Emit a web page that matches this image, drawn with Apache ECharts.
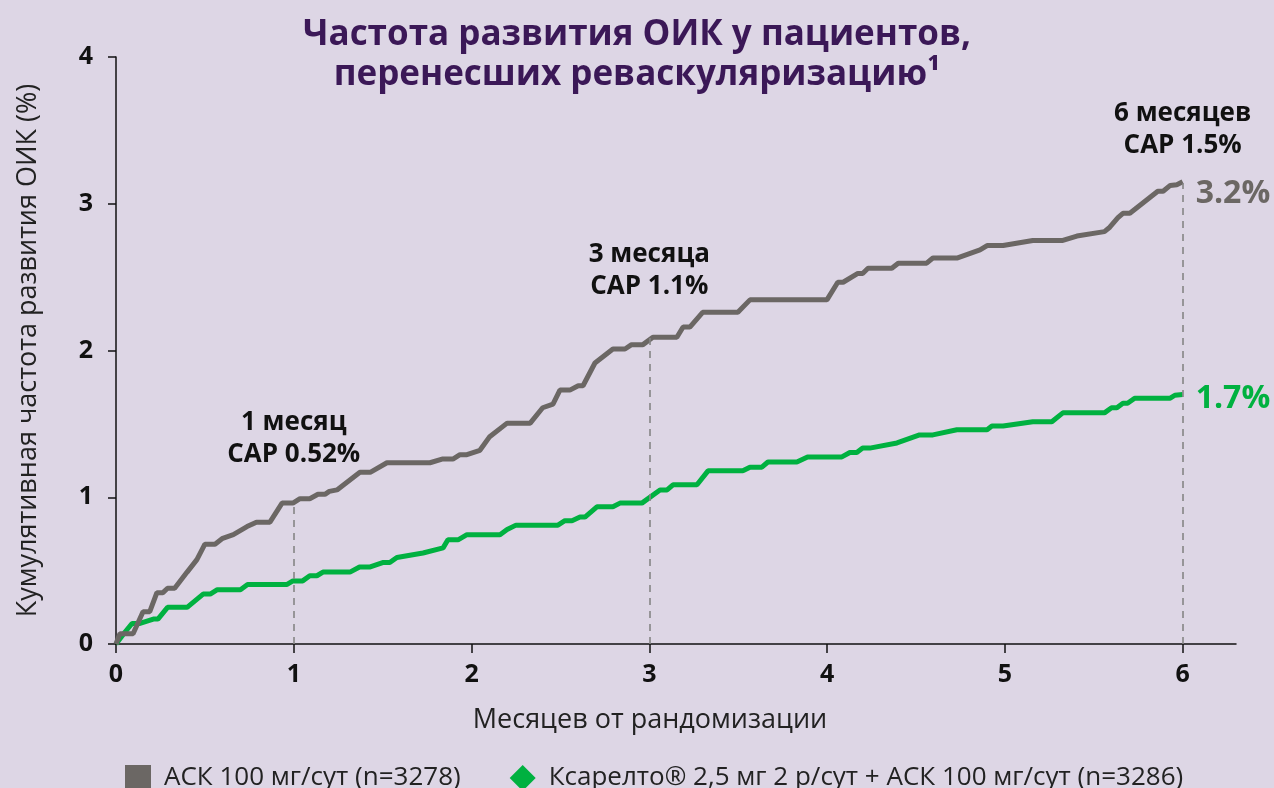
<!DOCTYPE html>
<html>
<head>
<meta charset="utf-8">
<script src="https://cdn.jsdelivr.net/npm/echarts@6/dist/echarts.min.js"></script>
<style>
  html, body { margin: 0; padding: 0; background: #ddd6e5; }
  #chart { width: 1274px; height: 788px; }
</style>
</head>
<body>
<div id="chart"></div>
<script>
// АСК 100 мг/сут
var asaMonths = [0, 0.022, 0.096, 0.152, 0.19, 0.23, 0.264, 0.29, 0.33, 0.40, 0.455, 0.50, 0.557, 0.60, 0.66, 0.737, 0.79, 0.866, 0.934, 0.995,
  1.035, 1.09, 1.136, 1.175, 1.20, 1.243, 1.372, 1.43, 1.524, 1.766, 1.834, 1.895, 1.935, 1.974, 2.047, 2.10, 2.20, 2.33, 2.40, 2.458,
  2.497, 2.553, 2.60, 2.627, 2.694, 2.795, 2.863, 2.90, 2.964, 3.02, 3.155, 3.19, 3.228, 3.30, 3.498, 3.566, 3.999, 4.06, 4.09, 4.173,
  4.20, 4.23, 4.364, 4.40, 4.56, 4.595, 4.73, 4.86, 4.90, 4.99, 5.157, 5.326, 5.405, 5.56, 5.59, 5.636, 5.664, 5.703, 5.86, 5.89,
  5.93, 5.967, 6.0];
var asaRate = [0, 0.07, 0.07, 0.22, 0.22, 0.35, 0.35, 0.38, 0.38, 0.49, 0.575, 0.68, 0.68, 0.72, 0.745, 0.80, 0.83, 0.83, 0.96, 0.96,
  0.99, 0.99, 1.02, 1.02, 1.04, 1.05, 1.17, 1.17, 1.235, 1.235, 1.26, 1.26, 1.29, 1.29, 1.32, 1.41, 1.505, 1.505, 1.61, 1.635,
  1.73, 1.73, 1.76, 1.76, 1.915, 2.01, 2.01, 2.04, 2.04, 2.09, 2.09, 2.16, 2.16, 2.26, 2.26, 2.345, 2.345, 2.465, 2.465, 2.525,
  2.525, 2.56, 2.56, 2.595, 2.595, 2.63, 2.63, 2.685, 2.715, 2.715, 2.75, 2.75, 2.78, 2.81, 2.84, 2.905, 2.935, 2.935, 3.085, 3.085,
  3.125, 3.13, 3.15];

// Ксарелто 2,5 мг 2 р/сут + АСК 100 мг/сут
var combMonths = [0, 0.05, 0.09, 0.135, 0.21, 0.236, 0.29, 0.40, 0.49, 0.53, 0.57, 0.70, 0.74, 0.96, 0.995, 1.05, 1.09, 1.13, 1.164, 1.316,
  1.37, 1.43, 1.50, 1.54, 1.58, 1.727, 1.84, 1.867, 1.924, 1.974, 2.16, 2.20, 2.25, 2.486, 2.525, 2.565, 2.61, 2.638, 2.705, 2.795,
  2.835, 2.958, 3.06, 3.10, 3.133, 3.268, 3.33, 3.526, 3.566, 3.633, 3.667, 3.83, 3.89, 4.083, 4.128, 4.167, 4.20, 4.24, 4.393, 4.52,
  4.595, 4.73, 4.90, 4.927, 4.99, 5.157, 5.264, 5.326, 5.56, 5.60, 5.63, 5.664, 5.69, 5.73, 5.93, 5.956, 6.0];
var combRate = [0, 0.08, 0.14, 0.14, 0.17, 0.17, 0.25, 0.25, 0.34, 0.34, 0.37, 0.37, 0.405, 0.405, 0.43, 0.43, 0.465, 0.465, 0.49, 0.49,
  0.525, 0.525, 0.555, 0.555, 0.59, 0.62, 0.655, 0.71, 0.71, 0.745, 0.745, 0.78, 0.81, 0.81, 0.84, 0.84, 0.865, 0.865, 0.935, 0.935,
  0.96, 0.96, 1.05, 1.05, 1.085, 1.085, 1.18, 1.18, 1.205, 1.205, 1.24, 1.24, 1.275, 1.275, 1.305, 1.305, 1.335, 1.335, 1.37, 1.425,
  1.425, 1.46, 1.46, 1.485, 1.485, 1.515, 1.515, 1.575, 1.575, 1.61, 1.61, 1.64, 1.64, 1.675, 1.675, 1.695, 1.70];

var markMonths = [1, 3, 6];
var markTops = [0.96, 2.09, 3.14];
var markTitles = ['1 месяц', '3 месяца', '6 месяцев'];
var markCap = ['CAP 0.52%', 'CAP 1.1%', 'CAP 1.5%'];
var monthTicks = [0, 1, 2, 3, 4, 5, 6];

var seriesNames = ['АСК 100 мг/сут (n=3278)', 'Ксарелто® 2,5 мг 2 р/сут + АСК 100 мг/сут (n=3286)'];
var endLabels = ['3.2%', '1.7%'];

function zip(xs, ys) {
  var out = [];
  for (var i = 0; i < xs.length; i++) out.push([xs[i], ys[i]]);
  return out;
}

var GREY = '#6b6764';
var GREEN = '#00b140';
var FONT = '"Open Sans", "Noto Sans", sans-serif';
var labelGaps = [33, 35, 22];

var markData = markMonths.map(function (m, i) {
  return [
    { coord: [m, 0] },
    {
      coord: [m, markTops[i]],
      label: {
        show: true,
        position: 'end',
        distance: labelGaps[i],
        formatter: markTitles[i] + '\n' + markCap[i],
        fontFamily: FONT,
        fontWeight: 'bold',
        fontSize: 26,
        lineHeight: 32,
        color: '#111'
      }
    }
  ];
});

var myChart = echarts.init(document.getElementById('chart'));
var option = {
  backgroundColor: '#ddd6e5',
  animation: false,
  title: {
    text: 'Частота развития ОИК у пациентов,\nперенесших реваскуляризацию¹',
    left: 'center',
    top: 10,
    textStyle: {
      fontFamily: FONT,
      fontWeight: 'bold',
      fontSize: 35,
      lineHeight: 40,
      color: '#3b1857'
    }
  },
  legend: {
    left: 120,
    top: 760,
    itemWidth: 26,
    itemHeight: 26,
    itemGap: 49,
    data: [
      { name: seriesNames[0], icon: 'rect' },
      { name: seriesNames[1], icon: 'diamond' }
    ],
    textStyle: {
      fontFamily: FONT,
      fontSize: 26,
      color: '#222',
      padding: [0, 0, 0, 8]
    }
  },
  grid: {
    left: 116,
    right: 38,
    top: 57,
    bottom: 144
  },
  xAxis: {
    type: 'value',
    min: 0,
    max: 6.3,
    interval: 1,
    name: 'Месяцев от рандомизации',
    nameLocation: 'middle',
    nameGap: 63,
    nameTextStyle: { fontFamily: FONT, fontSize: 27, color: '#222', padding: [0, 52, 0, 0] },
    axisLine: { show: true, onZero: false, lineStyle: { color: '#111', width: 1.5 } },
    axisTick: { show: true, inside: false, length: 9, customValues: monthTicks, lineStyle: { color: '#111', width: 1.5 } },
    axisLabel: {
      customValues: monthTicks,
      margin: 18,
      fontFamily: FONT,
      fontWeight: 'bold',
      fontSize: 25,
      color: '#111'
    },
    splitLine: { show: false }
  },
  yAxis: {
    type: 'value',
    min: 0,
    max: 4,
    interval: 1,
    name: 'Кумулятивная частота развития ОИК (%)',
    nameLocation: 'middle',
    nameGap: 74,
    nameTextStyle: { fontFamily: FONT, fontSize: 27, color: '#222' },
    axisLine: { show: true, lineStyle: { color: '#111', width: 1.5 } },
    axisTick: { show: true, inside: false, length: 8, lineStyle: { color: '#111', width: 1.5 } },
    axisLabel: {
      margin: 23,
      fontFamily: FONT,
      fontWeight: 'bold',
      fontSize: 25,
      color: '#111'
    },
    splitLine: { show: false }
  },
  series: [
    {
      name: seriesNames[1],
      type: 'line',
      data: zip(combMonths, combRate),
      showSymbol: false,
      color: GREEN,
      lineStyle: { color: GREEN, width: 5 },
      endLabel: {
        show: true,
        formatter: endLabels[1],
        distance: 13,
        offset: [0, 4],
        fontFamily: FONT,
        fontWeight: 'bold',
        fontSize: 32,
        color: GREEN
      },
      z: 3
    },
    {
      name: seriesNames[0],
      type: 'line',
      data: zip(asaMonths, asaRate),
      showSymbol: false,
      color: GREY,
      lineStyle: { color: GREY, width: 5 },
      endLabel: {
        show: true,
        formatter: endLabels[0],
        distance: 13,
        offset: [0, 12],
        fontFamily: FONT,
        fontWeight: 'bold',
        fontSize: 32,
        color: GREY
      },
      markLine: {
        silent: true,
        symbol: 'none',
        lineStyle: { type: [7, 6], color: '#858585', width: 1.6 },
        data: markData
      },
      z: 4
    }
  ]
};
myChart.setOption(option);
</script>
</body>
</html>
